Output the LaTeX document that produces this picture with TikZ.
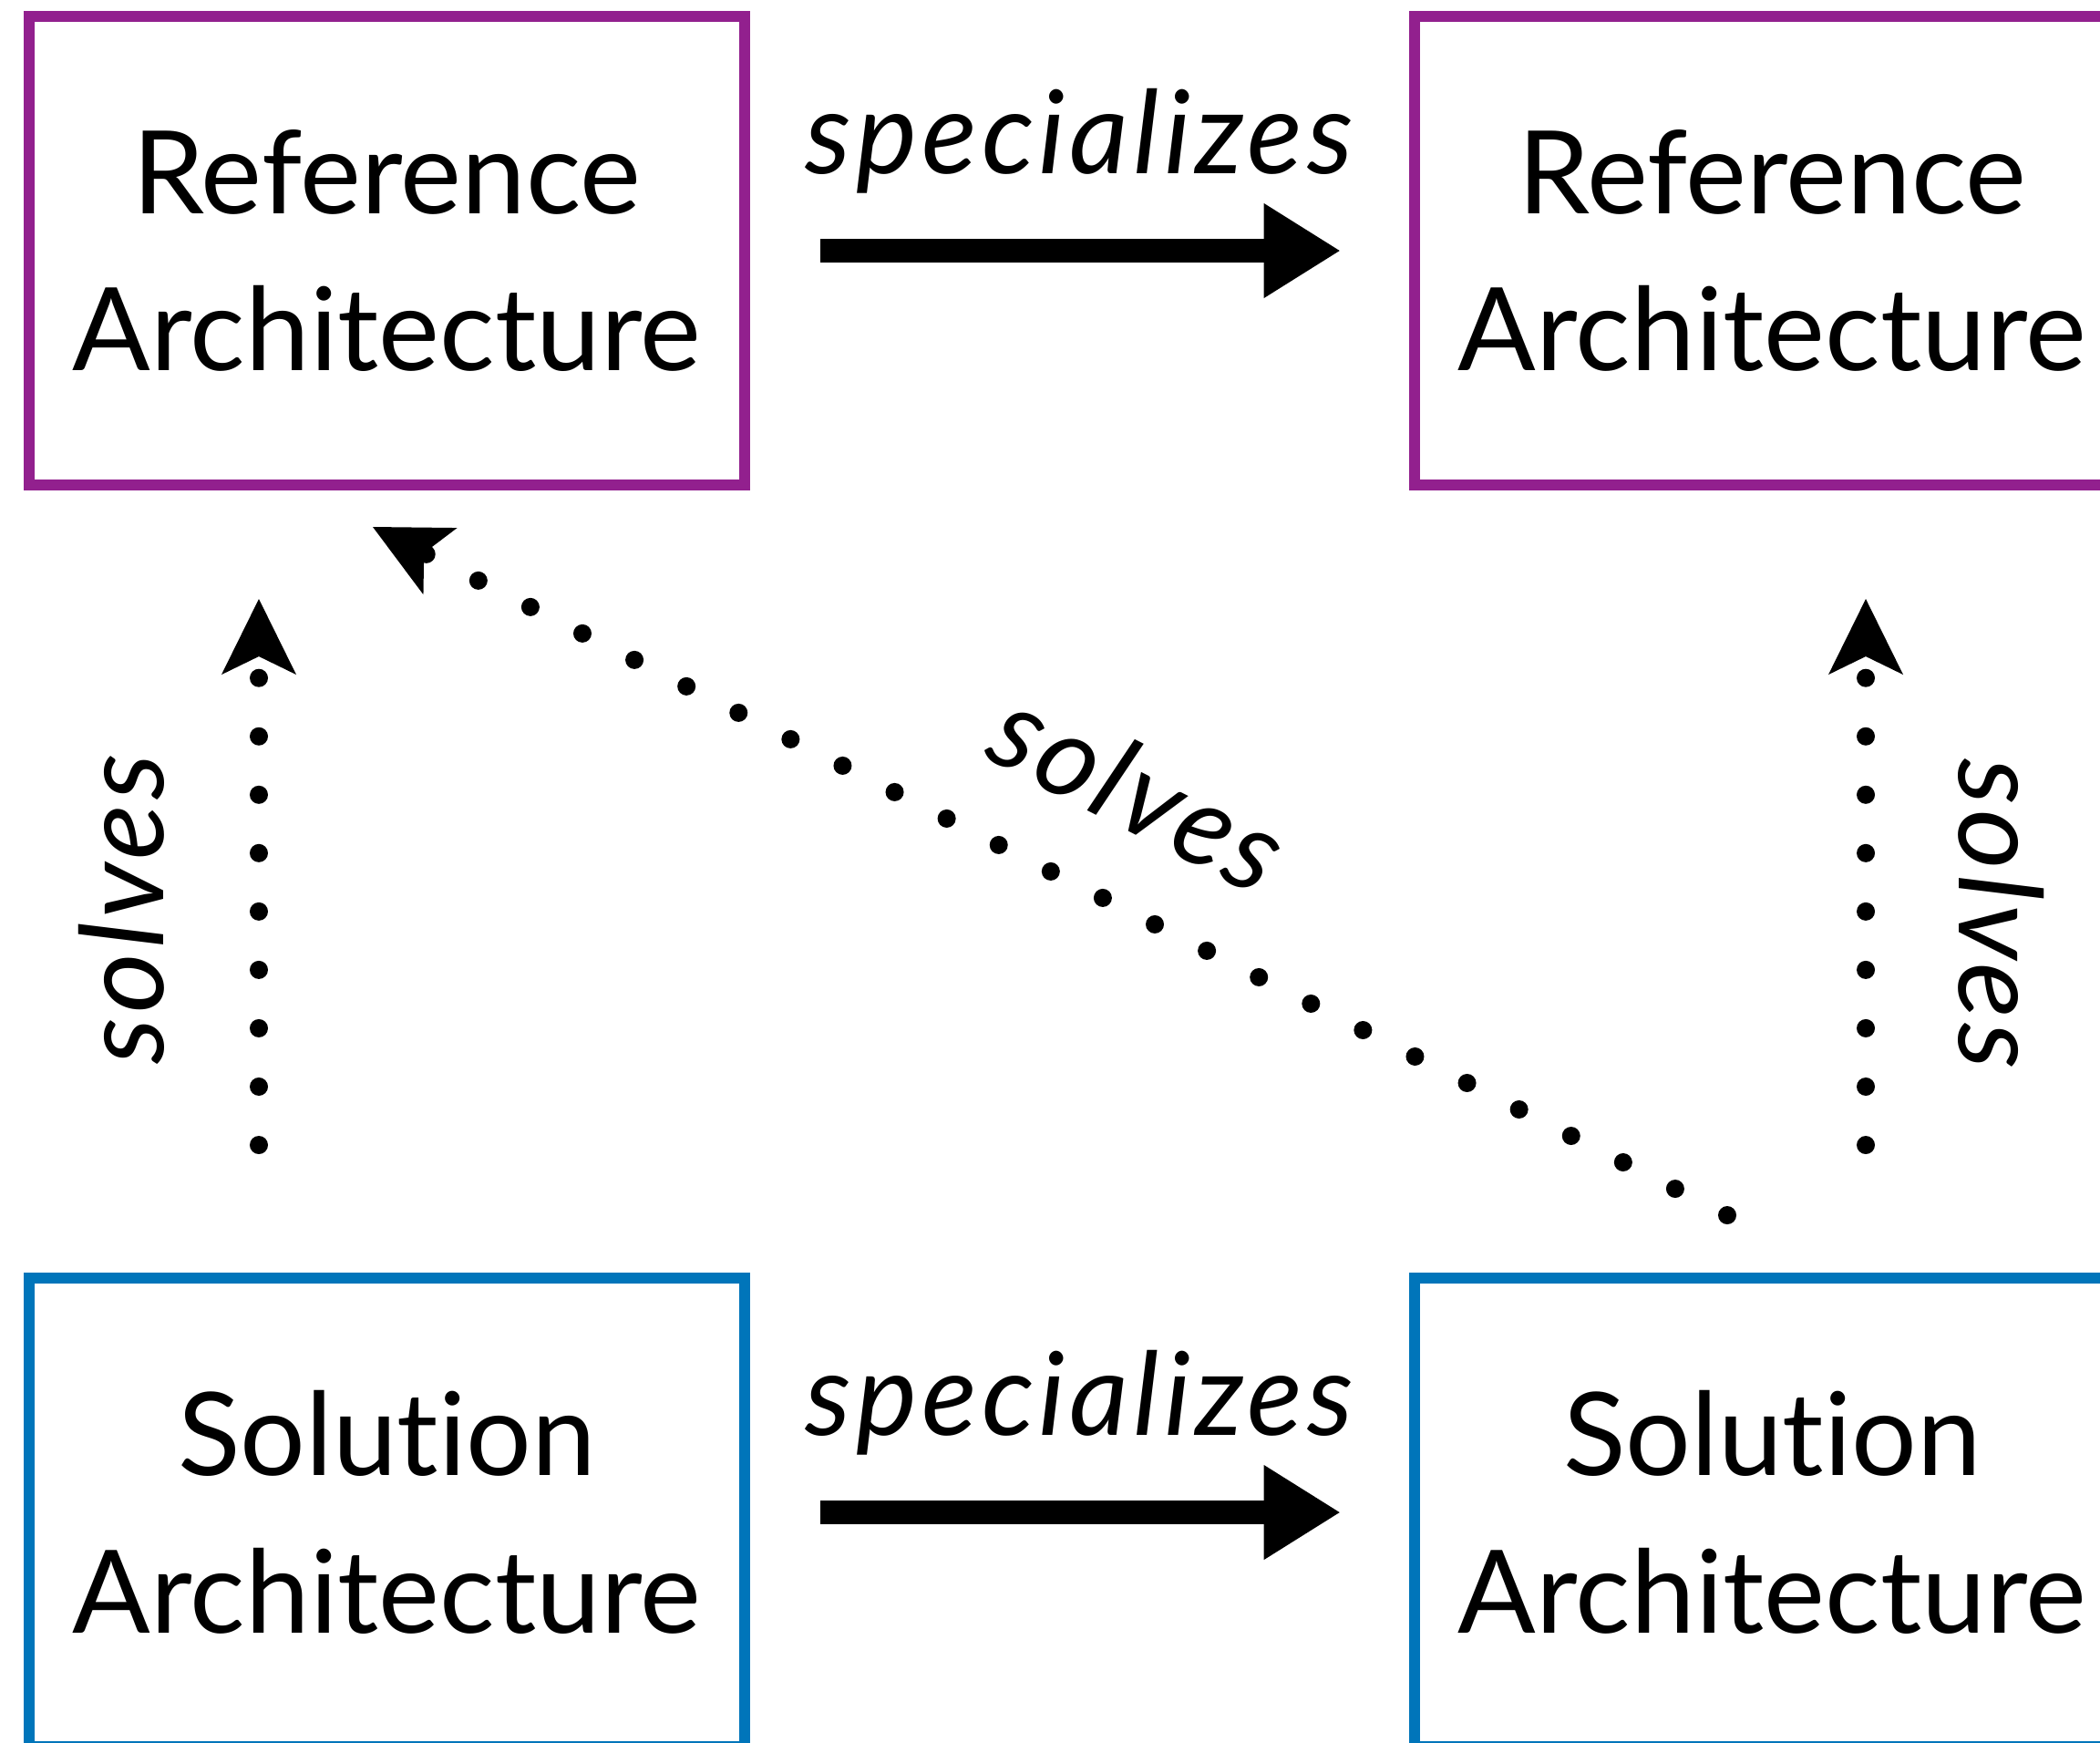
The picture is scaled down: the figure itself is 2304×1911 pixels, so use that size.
\documentclass[tikz,border=0pt]{standalone}
\usepackage{fontspec}
\setmainfont{Lato}[Ligatures=NoCommon]
\newfontfamily\lblfont{Lato}[Ligatures=NoCommon,LetterSpace=4]
\usetikzlibrary{arrows.meta}
\definecolor{refpurple}{RGB}{146,32,142}
\definecolor{solblue}{RGB}{0,117,186}

\begin{document}
\begin{tikzpicture}[x=0.01cm,y=-0.01cm,
  arch/.style={draw,line width=0.12cm,minimum width=7.85cm,minimum height=5.14cm,
    inner sep=0,outer sep=0,align=center,font=\fontsize{36}{49}\selectfont},
  spec/.style={line width=0.26cm,shorten <=0.83cm,shorten >=0.82cm,
    -{Triangle[length=0.83cm,width=1.04cm,line width=0pt]}},
  solve/.style={line width=0.2cm,line cap=round,dash pattern=on 0pt off 0.64cm,
    -{Stealth[length=0.83cm,width=0.82cm,inset=0.2cm,line width=0pt]}},
  lbl/.style={font=\lblfont\fontsize{36}{42}\selectfont\itshape,inner sep=0}]
\useasboundingbox (0,0) rectangle (2304,1911);

% the four architectures
\node[arch,draw=refpurple] (ra1) at (424.5,275) {Reference\\Architecture};
\node[arch,draw=refpurple] (ra2) at (1944.5,275) {Reference\\Architecture};
\node[arch,draw=solblue] (sa1) at (424.5,1659) {Solution\\Architecture};
\node[arch,draw=solblue] (sa2) at (1944.5,1659) {Solution\\Architecture};

% specializes
\draw[spec] (ra1) -- (ra2) node[lbl,midway,anchor=base,yshift=0.84cm] {specializes};
\draw[spec] (sa1) -- (sa2) node[lbl,midway,anchor=base,yshift=0.84cm] {specializes};

% solves
\coordinate (l0) at (284,1256);
\coordinate (l1) at (284,657);
\coordinate (r0) at (2047,1256);
\coordinate (r1) at (2047,657);
\coordinate (d0) at (1895,1333);
\coordinate (d1) at (409,578);
\draw[solve] (l0) -- (l1);
\draw[solve] (r0) -- (r1);
\draw[solve] (d0) -- (d1);
\node[lbl,rotate=90,anchor=base] (sl) at (179,997) {solves};
\node[lbl,rotate=-90,anchor=base] (sr) at (2149,1003) {solves};
\node[lbl,rotate=-26.9,anchor=base] (sd) at (1229,907) {solves};
\end{tikzpicture}
\end{document}
